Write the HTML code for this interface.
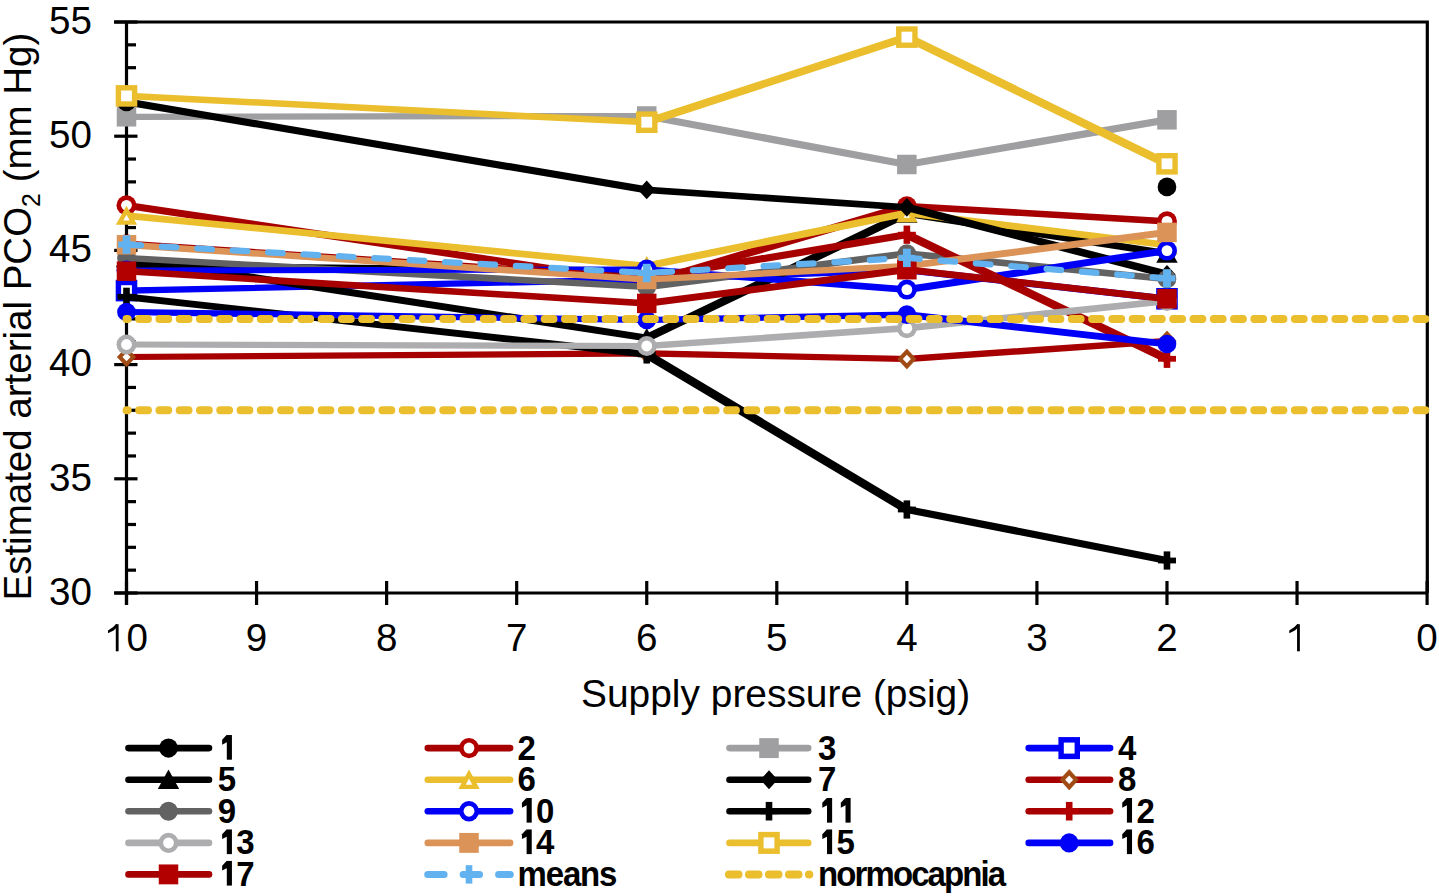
<!DOCTYPE html>
<html><head><meta charset="utf-8"><style>
html,body{margin:0;padding:0;background:#fff;overflow:hidden;}
svg{display:block;}
text{font-family:'Liberation Sans',sans-serif;fill:#000;}
</style></head><body>
<svg width="1439" height="896" viewBox="0 0 1439 896">
<rect width="1439" height="896" fill="#fff"/>
<path d="M114,22 H1427.3 V593 M126.5,22 V605 M114.2,593 H1427.3" fill="none" stroke="#000" stroke-width="3.2"/>
<line x1="114.2" y1="593.00" x2="137.5" y2="593.00" stroke="#000" stroke-width="3.2"/>
<line x1="126.5" y1="570.16" x2="136" y2="570.16" stroke="#000" stroke-width="3.2"/>
<line x1="126.5" y1="547.32" x2="136" y2="547.32" stroke="#000" stroke-width="3.2"/>
<line x1="126.5" y1="524.48" x2="136" y2="524.48" stroke="#000" stroke-width="3.2"/>
<line x1="126.5" y1="501.64" x2="136" y2="501.64" stroke="#000" stroke-width="3.2"/>
<line x1="114.2" y1="478.80" x2="137.5" y2="478.80" stroke="#000" stroke-width="3.2"/>
<line x1="126.5" y1="455.96" x2="136" y2="455.96" stroke="#000" stroke-width="3.2"/>
<line x1="126.5" y1="433.12" x2="136" y2="433.12" stroke="#000" stroke-width="3.2"/>
<line x1="126.5" y1="410.28" x2="136" y2="410.28" stroke="#000" stroke-width="3.2"/>
<line x1="126.5" y1="387.44" x2="136" y2="387.44" stroke="#000" stroke-width="3.2"/>
<line x1="114.2" y1="364.60" x2="137.5" y2="364.60" stroke="#000" stroke-width="3.2"/>
<line x1="126.5" y1="341.76" x2="136" y2="341.76" stroke="#000" stroke-width="3.2"/>
<line x1="126.5" y1="318.92" x2="136" y2="318.92" stroke="#000" stroke-width="3.2"/>
<line x1="126.5" y1="296.08" x2="136" y2="296.08" stroke="#000" stroke-width="3.2"/>
<line x1="126.5" y1="273.24" x2="136" y2="273.24" stroke="#000" stroke-width="3.2"/>
<line x1="114.2" y1="250.40" x2="137.5" y2="250.40" stroke="#000" stroke-width="3.2"/>
<line x1="126.5" y1="227.56" x2="136" y2="227.56" stroke="#000" stroke-width="3.2"/>
<line x1="126.5" y1="204.72" x2="136" y2="204.72" stroke="#000" stroke-width="3.2"/>
<line x1="126.5" y1="181.88" x2="136" y2="181.88" stroke="#000" stroke-width="3.2"/>
<line x1="126.5" y1="159.04" x2="136" y2="159.04" stroke="#000" stroke-width="3.2"/>
<line x1="114.2" y1="136.20" x2="137.5" y2="136.20" stroke="#000" stroke-width="3.2"/>
<line x1="126.5" y1="113.36" x2="136" y2="113.36" stroke="#000" stroke-width="3.2"/>
<line x1="126.5" y1="90.52" x2="136" y2="90.52" stroke="#000" stroke-width="3.2"/>
<line x1="126.5" y1="67.68" x2="136" y2="67.68" stroke="#000" stroke-width="3.2"/>
<line x1="126.5" y1="44.84" x2="136" y2="44.84" stroke="#000" stroke-width="3.2"/>
<line x1="114.2" y1="22.00" x2="137.5" y2="22.00" stroke="#000" stroke-width="3.2"/>
<line x1="1427.10" y1="581" x2="1427.10" y2="605" stroke="#000" stroke-width="3.2"/>
<line x1="1297.04" y1="581" x2="1297.04" y2="605" stroke="#000" stroke-width="3.2"/>
<line x1="1166.98" y1="581" x2="1166.98" y2="605" stroke="#000" stroke-width="3.2"/>
<line x1="1036.92" y1="581" x2="1036.92" y2="605" stroke="#000" stroke-width="3.2"/>
<line x1="906.86" y1="581" x2="906.86" y2="605" stroke="#000" stroke-width="3.2"/>
<line x1="776.80" y1="581" x2="776.80" y2="605" stroke="#000" stroke-width="3.2"/>
<line x1="646.74" y1="581" x2="646.74" y2="605" stroke="#000" stroke-width="3.2"/>
<line x1="516.68" y1="581" x2="516.68" y2="605" stroke="#000" stroke-width="3.2"/>
<line x1="386.62" y1="581" x2="386.62" y2="605" stroke="#000" stroke-width="3.2"/>
<line x1="256.56" y1="581" x2="256.56" y2="605" stroke="#000" stroke-width="3.2"/>
<line x1="126.50" y1="581" x2="126.50" y2="605" stroke="#000" stroke-width="3.2"/>
<path d="M123.40,262.70 L129.60,262.70 L649.84,267.40 L649.84,273.60 L643.64,273.60 L123.40,268.90Z" fill="#000000"/>
<ellipse cx="126.50" cy="265.80" rx="9.35" ry="9.35" fill="#000000"/><ellipse cx="646.74" cy="270.50" rx="9.35" ry="9.35" fill="#000000"/><ellipse cx="1166.98" cy="186.90" rx="9.35" ry="9.35" fill="#000000"/>
<path d="M123.40,202.20 L129.60,202.20 L649.84,279.90 L649.84,286.10 L643.64,286.10 L123.40,208.40Z M643.64,279.90 L903.76,203.10 L909.96,203.10 L909.96,209.30 L649.84,286.10 L643.64,286.10Z M903.76,203.10 L909.96,203.10 L1170.08,218.20 L1170.08,224.40 L1163.88,224.40 L903.76,209.30Z" fill="#A60000"/>
<ellipse cx="126.50" cy="205.30" rx="10.00" ry="10.00" fill="#B20000"/><ellipse cx="126.50" cy="205.30" rx="5.40" ry="5.40" fill="#fff"/><ellipse cx="646.74" cy="283.00" rx="10.00" ry="10.00" fill="#B20000"/><ellipse cx="646.74" cy="283.00" rx="5.40" ry="5.40" fill="#fff"/><ellipse cx="906.86" cy="206.20" rx="10.00" ry="10.00" fill="#B20000"/><ellipse cx="906.86" cy="206.20" rx="5.40" ry="5.40" fill="#fff"/><ellipse cx="1166.98" cy="221.30" rx="10.00" ry="10.00" fill="#B20000"/><ellipse cx="1166.98" cy="221.30" rx="5.40" ry="5.40" fill="#fff"/>
<path d="M123.40,113.70 L643.64,112.90 L649.84,112.90 L649.84,119.10 L129.60,119.90 L123.40,119.90Z M643.64,112.90 L649.84,112.90 L909.96,161.40 L909.96,167.60 L903.76,167.60 L643.64,119.10Z M903.76,161.40 L1163.88,116.70 L1170.08,116.70 L1170.08,122.90 L909.96,167.60 L903.76,167.60Z" fill="#9F9FA1"/>
<rect x="116.75" y="107.05" width="19.50" height="19.50" fill="#9F9FA1"/><rect x="636.99" y="106.25" width="19.50" height="19.50" fill="#9F9FA1"/><rect x="897.11" y="154.75" width="19.50" height="19.50" fill="#9F9FA1"/><rect x="1157.23" y="110.05" width="19.50" height="19.50" fill="#9F9FA1"/>
<path d="M123.40,287.50 L643.64,276.40 L649.84,276.40 L649.84,282.60 L129.60,293.70 L123.40,293.70Z M643.64,276.40 L903.76,266.90 L909.96,266.90 L909.96,273.10 L649.84,282.60 L643.64,282.60Z M903.76,266.90 L909.96,266.90 L1170.08,295.70 L1170.08,301.90 L1163.88,301.90 L903.76,273.10Z" fill="#0000F8"/>
<rect x="115.70" y="279.80" width="21.60" height="21.60" fill="#0000F8"/><rect x="121.10" y="285.20" width="10.80" height="10.80" fill="#fff"/><rect x="1156.18" y="288.00" width="21.60" height="21.60" fill="#0000F8"/><rect x="1161.58" y="293.40" width="10.80" height="10.80" fill="#fff"/>
<path d="M123.40,254.90 L129.60,254.90 L649.84,334.90 L649.84,341.10 L643.64,341.10 L123.40,261.10Z M643.64,334.90 L903.76,210.40 L909.96,210.40 L909.96,216.60 L649.84,341.10 L643.64,341.10Z M903.76,210.40 L909.96,210.40 L1170.08,250.40 L1170.08,256.60 L1163.88,256.60 L903.76,216.60Z" fill="#000000"/>
<path d="M126.50,248.10 L137.20,267.20 L115.80,267.20Z" fill="#000000"/><path d="M646.74,328.10 L657.44,347.20 L636.04,347.20Z" fill="#000000"/><path d="M906.86,203.60 L917.56,222.70 L896.16,222.70Z" fill="#000000"/><path d="M1166.98,243.60 L1177.68,262.70 L1156.28,262.70Z" fill="#000000"/>
<path d="M123.40,212.50 L129.60,212.50 L649.84,262.90 L649.84,269.10 L643.64,269.10 L123.40,218.70Z M643.64,262.90 L903.76,209.90 L909.96,209.90 L909.96,216.10 L649.84,269.10 L643.64,269.10Z M903.76,209.90 L909.96,209.90 L1170.08,241.90 L1170.08,248.10 L1163.88,248.10 L903.76,216.10Z" fill="#EABE2C"/>
<path d="M126.50,205.70 L137.20,224.80 L115.80,224.80Z" fill="#EABE2C"/><path d="M126.50,214.70 L129.69,220.40 L123.31,220.40Z" fill="#fff"/><path d="M646.74,256.10 L657.44,275.20 L636.04,275.20Z" fill="#EABE2C"/><path d="M646.74,265.10 L649.93,270.80 L643.55,270.80Z" fill="#fff"/><path d="M906.86,203.10 L917.56,222.20 L896.16,222.20Z" fill="#EABE2C"/><path d="M906.86,212.10 L910.05,217.80 L903.67,217.80Z" fill="#fff"/><path d="M1166.98,235.10 L1177.68,254.20 L1156.28,254.20Z" fill="#EABE2C"/><path d="M1166.98,244.10 L1170.17,249.80 L1163.79,249.80Z" fill="#fff"/>
<path d="M123.40,98.80 L129.60,98.80 L649.84,186.80 L649.84,193.00 L643.64,193.00 L123.40,105.00Z M643.64,186.80 L649.84,186.80 L909.96,204.20 L909.96,210.40 L903.76,210.40 L643.64,193.00Z M903.76,204.20 L909.96,204.20 L1170.08,271.30 L1170.08,277.50 L1163.88,277.50 L903.76,210.40Z" fill="#000000"/>
<path d="M646.74,180.55 L655.39,189.90 L646.74,199.25 L638.09,189.90Z" fill="#000000"/><path d="M906.86,197.95 L915.51,207.30 L906.86,216.65 L898.21,207.30Z" fill="#000000"/><path d="M1166.98,265.05 L1175.63,274.40 L1166.98,283.75 L1158.33,274.40Z" fill="#000000"/><ellipse cx="126.50" cy="101.90" rx="9.35" ry="9.35" fill="#000000"/>
<path d="M123.40,353.90 L643.64,350.20 L649.84,350.20 L649.84,356.40 L129.60,360.10 L123.40,360.10Z M643.64,350.20 L649.84,350.20 L909.96,355.90 L909.96,362.10 L903.76,362.10 L643.64,356.40Z M903.76,355.90 L1163.88,337.90 L1170.08,337.90 L1170.08,344.10 L909.96,362.10 L903.76,362.10Z" fill="#A60000"/>
<path d="M126.50,346.90 L135.75,357.00 L126.50,367.10 L117.25,357.00Z" fill="#A04B14" stroke="#A04B14" stroke-width="0.6" stroke-linejoin="round"/><path d="M126.50,352.80 L130.55,357.00 L126.50,361.20 L122.45,357.00Z" fill="#fff"/><path d="M646.74,343.20 L655.99,353.30 L646.74,363.40 L637.49,353.30Z" fill="#A04B14" stroke="#A04B14" stroke-width="0.6" stroke-linejoin="round"/><path d="M646.74,349.10 L650.79,353.30 L646.74,357.50 L642.69,353.30Z" fill="#fff"/><path d="M906.86,348.90 L916.11,359.00 L906.86,369.10 L897.61,359.00Z" fill="#A04B14" stroke="#A04B14" stroke-width="0.6" stroke-linejoin="round"/><path d="M906.86,354.80 L910.91,359.00 L906.86,363.20 L902.81,359.00Z" fill="#fff"/><path d="M1166.98,330.90 L1176.23,341.00 L1166.98,351.10 L1157.73,341.00Z" fill="#A04B14" stroke="#A04B14" stroke-width="0.6" stroke-linejoin="round"/><path d="M1166.98,336.80 L1171.03,341.00 L1166.98,345.20 L1162.93,341.00Z" fill="#fff"/>
<path d="M123.40,254.90 L129.60,254.90 L649.84,283.90 L649.84,290.10 L643.64,290.10 L123.40,261.10Z M643.64,283.90 L903.76,250.40 L909.96,250.40 L909.96,256.60 L649.84,290.10 L643.64,290.10Z M903.76,250.40 L909.96,250.40 L1170.08,275.90 L1170.08,282.10 L1163.88,282.10 L903.76,256.60Z" fill="#626263"/>
<ellipse cx="126.50" cy="258.00" rx="9.35" ry="9.35" fill="#626263"/><ellipse cx="646.74" cy="287.00" rx="9.35" ry="9.35" fill="#626263"/><ellipse cx="906.86" cy="253.50" rx="9.35" ry="9.35" fill="#626263"/><ellipse cx="1166.98" cy="279.00" rx="9.35" ry="9.35" fill="#626263"/>
<path d="M123.40,267.40 L643.64,266.40 L649.84,266.40 L649.84,272.60 L129.60,273.60 L123.40,273.60Z M643.64,266.40 L649.84,266.40 L909.96,286.50 L909.96,292.70 L903.76,292.70 L643.64,272.60Z M903.76,286.50 L1163.88,247.50 L1170.08,247.50 L1170.08,253.70 L909.96,292.70 L903.76,292.70Z" fill="#0000F8"/>
<ellipse cx="126.50" cy="270.50" rx="10.00" ry="10.00" fill="#0000F8"/><ellipse cx="126.50" cy="270.50" rx="5.40" ry="5.40" fill="#fff"/><ellipse cx="646.74" cy="269.50" rx="10.00" ry="10.00" fill="#0000F8"/><ellipse cx="646.74" cy="269.50" rx="5.40" ry="5.40" fill="#fff"/><ellipse cx="906.86" cy="289.60" rx="10.00" ry="10.00" fill="#0000F8"/><ellipse cx="906.86" cy="289.60" rx="5.40" ry="5.40" fill="#fff"/><ellipse cx="1166.98" cy="250.60" rx="10.00" ry="10.00" fill="#0000F8"/><ellipse cx="1166.98" cy="250.60" rx="5.40" ry="5.40" fill="#fff"/>
<path d="M123.40,293.70 L129.60,293.70 L649.84,351.30 L649.84,357.50 L643.64,357.50 L123.40,299.90Z M643.64,351.30 L649.84,351.30 L909.96,506.40 L909.96,512.60 L903.76,512.60 L643.64,357.50Z M903.76,506.40 L909.96,506.40 L1170.08,557.40 L1170.08,563.60 L1163.88,563.60 L903.76,512.60Z" fill="#000000"/>
<rect x="123.20" y="287.70" width="6.60" height="18.20" fill="#000000"/><rect x="117.50" y="293.90" width="18.00" height="5.80" fill="#000000"/><rect x="643.44" y="345.30" width="6.60" height="18.20" fill="#000000"/><rect x="637.74" y="351.50" width="18.00" height="5.80" fill="#000000"/><rect x="903.56" y="500.40" width="6.60" height="18.20" fill="#000000"/><rect x="897.86" y="506.60" width="18.00" height="5.80" fill="#000000"/><rect x="1163.68" y="551.40" width="6.60" height="18.20" fill="#000000"/><rect x="1157.98" y="557.60" width="18.00" height="5.80" fill="#000000"/>
<path d="M123.40,240.70 L129.60,240.70 L649.84,274.90 L649.84,281.10 L643.64,281.10 L123.40,246.90Z M643.64,274.90 L903.76,231.60 L909.96,231.60 L909.96,237.80 L649.84,281.10 L643.64,281.10Z M903.76,231.60 L909.96,231.60 L1170.08,355.70 L1170.08,361.90 L1163.88,361.90 L903.76,237.80Z" fill="#A60000"/>
<rect x="123.20" y="234.70" width="6.60" height="18.20" fill="#B20000"/><rect x="117.50" y="240.90" width="18.00" height="5.80" fill="#B20000"/><rect x="643.44" y="268.90" width="6.60" height="18.20" fill="#B20000"/><rect x="637.74" y="275.10" width="18.00" height="5.80" fill="#B20000"/><rect x="903.56" y="225.60" width="6.60" height="18.20" fill="#B20000"/><rect x="897.86" y="231.80" width="18.00" height="5.80" fill="#B20000"/><rect x="1163.68" y="349.70" width="6.60" height="18.20" fill="#B20000"/><rect x="1157.98" y="355.90" width="18.00" height="5.80" fill="#B20000"/>
<path d="M123.40,341.40 L129.60,341.40 L649.84,342.90 L649.84,349.10 L643.64,349.10 L123.40,347.60Z M643.64,342.90 L903.76,325.10 L909.96,325.10 L909.96,331.30 L649.84,349.10 L643.64,349.10Z M903.76,325.10 L1163.88,297.90 L1170.08,297.90 L1170.08,304.10 L909.96,331.30 L903.76,331.30Z" fill="#ADADAF"/>
<ellipse cx="126.50" cy="344.50" rx="10.00" ry="10.00" fill="#ADADAF"/><ellipse cx="126.50" cy="344.50" rx="5.40" ry="5.40" fill="#fff"/><ellipse cx="646.74" cy="346.00" rx="10.00" ry="10.00" fill="#ADADAF"/><ellipse cx="646.74" cy="346.00" rx="5.40" ry="5.40" fill="#fff"/><ellipse cx="906.86" cy="328.20" rx="10.00" ry="10.00" fill="#ADADAF"/><ellipse cx="906.86" cy="328.20" rx="5.40" ry="5.40" fill="#fff"/><ellipse cx="1166.98" cy="301.00" rx="10.00" ry="10.00" fill="#ADADAF"/><ellipse cx="1166.98" cy="301.00" rx="5.40" ry="5.40" fill="#fff"/>
<path d="M123.40,241.70 L129.60,241.70 L649.84,276.40 L649.84,282.60 L643.64,282.60 L123.40,247.90Z M643.64,276.40 L903.76,262.90 L909.96,262.90 L909.96,269.10 L649.84,282.60 L643.64,282.60Z M903.76,262.90 L1163.88,229.30 L1170.08,229.30 L1170.08,235.50 L909.96,269.10 L903.76,269.10Z" fill="#DB9358"/>
<rect x="116.75" y="235.05" width="19.50" height="19.50" fill="#DB9358"/><rect x="636.99" y="269.75" width="19.50" height="19.50" fill="#DB9358"/><rect x="897.11" y="256.25" width="19.50" height="19.50" fill="#DB9358"/><rect x="1157.23" y="222.65" width="19.50" height="19.50" fill="#DB9358"/>
<path d="M123.40,92.80 L129.60,92.80 L649.84,119.10 L649.84,125.30 L643.64,125.30 L123.40,99.00Z M643.64,119.10 L903.76,34.00 L909.96,34.00 L909.96,40.20 L649.84,125.30 L643.64,125.30Z M903.76,34.00 L909.96,34.00 L1170.08,160.70 L1170.08,166.90 L1163.88,166.90 L903.76,40.20Z" fill="#EABE2C"/>
<rect x="115.70" y="85.10" width="21.60" height="21.60" fill="#EABE2C"/><rect x="121.10" y="90.50" width="10.80" height="10.80" fill="#fff"/><rect x="635.94" y="111.40" width="21.60" height="21.60" fill="#EABE2C"/><rect x="641.34" y="116.80" width="10.80" height="10.80" fill="#fff"/><rect x="896.06" y="26.30" width="21.60" height="21.60" fill="#EABE2C"/><rect x="901.46" y="31.70" width="10.80" height="10.80" fill="#fff"/><rect x="1156.18" y="153.00" width="21.60" height="21.60" fill="#EABE2C"/><rect x="1161.58" y="158.40" width="10.80" height="10.80" fill="#fff"/>
<path d="M123.40,308.90 L129.60,308.90 L649.84,316.90 L649.84,323.10 L643.64,323.10 L123.40,315.10Z M643.64,316.90 L903.76,311.60 L909.96,311.60 L909.96,317.80 L649.84,323.10 L643.64,323.10Z M903.76,311.60 L909.96,311.60 L1170.08,340.90 L1170.08,347.10 L1163.88,347.10 L903.76,317.80Z" fill="#0000F8"/>
<ellipse cx="126.50" cy="312.00" rx="9.35" ry="9.35" fill="#0000F8"/><ellipse cx="646.74" cy="320.00" rx="9.35" ry="9.35" fill="#0000F8"/><ellipse cx="906.86" cy="314.70" rx="9.35" ry="9.35" fill="#0000F8"/><ellipse cx="1166.98" cy="344.00" rx="9.35" ry="9.35" fill="#0000F8"/>
<path d="M123.40,268.10 L129.60,268.10 L649.84,300.30 L649.84,306.50 L643.64,306.50 L123.40,274.30Z M643.64,300.30 L903.76,266.60 L909.96,266.60 L909.96,272.80 L649.84,306.50 L643.64,306.50Z M903.76,266.60 L909.96,266.60 L1170.08,295.70 L1170.08,301.90 L1163.88,301.90 L903.76,272.80Z" fill="#A60000"/>
<rect x="116.75" y="261.45" width="19.50" height="19.50" fill="#B20000"/><rect x="636.99" y="293.65" width="19.50" height="19.50" fill="#B20000"/><rect x="897.11" y="259.95" width="19.50" height="19.50" fill="#B20000"/><rect x="1157.23" y="289.05" width="19.50" height="19.50" fill="#B20000"/>
<path d="M126.50,244.60 L646.74,273.00 L906.86,257.90 L1166.98,278.40" fill="none" stroke="#62B2F0" stroke-width="6.2" stroke-dasharray="14.6 20.85" stroke-dashoffset="0" stroke-linecap="round" stroke-linejoin="round"/>
<rect x="122.60" y="235.40" width="7.80" height="18.40" fill="#62B2F0"/><rect x="118.10" y="241.55" width="16.80" height="6.10" fill="#62B2F0"/><rect x="642.84" y="263.80" width="7.80" height="18.40" fill="#62B2F0"/><rect x="638.34" y="269.95" width="16.80" height="6.10" fill="#62B2F0"/><rect x="902.96" y="248.70" width="7.80" height="18.40" fill="#62B2F0"/><rect x="898.46" y="254.85" width="16.80" height="6.10" fill="#62B2F0"/><rect x="1163.08" y="269.20" width="7.80" height="18.40" fill="#62B2F0"/><rect x="1158.58" y="275.35" width="16.80" height="6.10" fill="#62B2F0"/>
<line x1="126.5" y1="318.92" x2="1431" y2="318.92" stroke="#EABE2C" stroke-width="8" stroke-dasharray="8.8 11.476" stroke-dashoffset="7.63" stroke-linecap="round"/>
<line x1="126.5" y1="410.28" x2="1431" y2="410.28" stroke="#EABE2C" stroke-width="8" stroke-dasharray="8.8 11.476" stroke-dashoffset="7.63" stroke-linecap="round"/>
<text x="49.08" y="604.80" font-size="38.6">3</text><text x="70.54" y="604.80" font-size="38.6">0</text>
<text x="49.08" y="490.60" font-size="38.6">3</text><text x="70.54" y="490.60" font-size="38.6">5</text>
<text x="49.08" y="376.40" font-size="38.6">4</text><text x="70.54" y="376.40" font-size="38.6">0</text>
<text x="49.08" y="262.20" font-size="38.6">4</text><text x="70.54" y="262.20" font-size="38.6">5</text>
<text x="49.08" y="148.00" font-size="38.6">5</text><text x="70.54" y="148.00" font-size="38.6">0</text>
<text x="49.08" y="33.80" font-size="38.6">5</text><text x="70.54" y="33.80" font-size="38.6">5</text>
<text x="1416.37" y="651.30" font-size="38.6">0</text>
<rect x="1297.06" y="624.22" width="2.80" height="27.08" fill="#000"/><path d="M1289.26,630.42 L1294.46,626.92 L1297.06,624.22 L1298.46,624.22 L1297.06,628.62 L1294.86,630.52 L1289.26,633.22Z" fill="#000"/>
<text x="1156.25" y="651.30" font-size="38.6">2</text>
<text x="1026.19" y="651.30" font-size="38.6">3</text>
<text x="896.13" y="651.30" font-size="38.6">4</text>
<text x="766.07" y="651.30" font-size="38.6">5</text>
<text x="636.01" y="651.30" font-size="38.6">6</text>
<text x="505.95" y="651.30" font-size="38.6">7</text>
<text x="375.89" y="651.30" font-size="38.6">8</text>
<text x="245.83" y="651.30" font-size="38.6">9</text>
<rect x="115.79" y="624.22" width="2.80" height="27.08" fill="#000"/><path d="M107.99,630.42 L113.19,626.92 L115.79,624.22 L117.19,624.22 L115.79,628.62 L113.59,630.52 L107.99,633.22Z" fill="#000"/><text x="126.50" y="651.30" font-size="38.6">0</text>
<text x="775.6" y="706.5" text-anchor="middle" font-size="38.9">Supply pressure (psig)</text>
<text transform="translate(30.5,316.6) rotate(-90)" text-anchor="middle" font-size="38.6" textLength="567.8" lengthAdjust="spacingAndGlyphs">Estimated arterial PCO<tspan font-size="25" dy="9.6">2</tspan><tspan dy="-9.6"> (mm Hg)</tspan></text>
<line x1="128.5" y1="748.10" x2="209.0" y2="748.10" stroke="#000000" stroke-width="6.6" stroke-linecap="round"/>
<ellipse cx="168.50" cy="748.10" rx="9.35" ry="9.54" fill="#000000"/>
<rect x="226.81" y="735.05" width="5.12" height="24.65" fill="#000"/><path d="M222.12,739.87 L226.81,734.85 L227.81,741.87 L222.12,744.69Z" fill="#000"/>
<line x1="427.8" y1="748.10" x2="510.1" y2="748.10" stroke="#A60000" stroke-width="6.6" stroke-linecap="round"/>
<ellipse cx="469.00" cy="748.10" rx="10.00" ry="10.20" fill="#B20000"/><ellipse cx="469.00" cy="748.10" rx="5.40" ry="5.51" fill="#fff"/>
<text x="517.60" y="759.70" font-size="33.0" font-weight="bold" transform="translate(0 759.70) scale(1 1.065) translate(0 -759.70)">2</text>
<line x1="729.5" y1="748.10" x2="808.2" y2="748.10" stroke="#9F9FA1" stroke-width="6.6" stroke-linecap="round"/>
<rect x="759.25" y="738.15" width="19.50" height="19.89" fill="#9F9FA1"/>
<text x="818.00" y="759.70" font-size="33.0" font-weight="bold" transform="translate(0 759.70) scale(1 1.065) translate(0 -759.70)">3</text>
<line x1="1028.7" y1="748.10" x2="1110.1" y2="748.10" stroke="#0000F8" stroke-width="6.6" stroke-linecap="round"/>
<rect x="1058.40" y="737.08" width="21.60" height="22.03" fill="#0000F8"/><rect x="1063.80" y="742.59" width="10.80" height="11.02" fill="#fff"/>
<text x="1117.90" y="759.70" font-size="33.0" font-weight="bold" transform="translate(0 759.70) scale(1 1.065) translate(0 -759.70)">4</text>
<line x1="128.5" y1="779.70" x2="209.0" y2="779.70" stroke="#000000" stroke-width="6.6" stroke-linecap="round"/>
<path d="M168.50,769.60 L179.20,789.08 L157.80,789.08Z" fill="#000000"/>
<text x="217.80" y="791.17" font-size="33.0" font-weight="bold" transform="translate(0 791.17) scale(1 1.065) translate(0 -791.17)">5</text>
<line x1="427.8" y1="779.70" x2="510.1" y2="779.70" stroke="#EABE2C" stroke-width="6.6" stroke-linecap="round"/>
<path d="M469.00,769.60 L479.70,789.08 L458.30,789.08Z" fill="#EABE2C"/><path d="M469.00,778.74 L472.26,784.68 L465.74,784.68Z" fill="#fff"/>
<text x="517.60" y="791.17" font-size="33.0" font-weight="bold" transform="translate(0 791.17) scale(1 1.065) translate(0 -791.17)">6</text>
<line x1="729.5" y1="779.70" x2="808.2" y2="779.70" stroke="#000000" stroke-width="6.6" stroke-linecap="round"/>
<path d="M769.00,770.16 L777.65,779.70 L769.00,789.24 L760.35,779.70Z" fill="#000000"/>
<text x="818.00" y="791.17" font-size="33.0" font-weight="bold" transform="translate(0 791.17) scale(1 1.065) translate(0 -791.17)">7</text>
<line x1="1028.7" y1="779.70" x2="1110.1" y2="779.70" stroke="#A60000" stroke-width="6.6" stroke-linecap="round"/>
<path d="M1069.20,769.40 L1078.45,779.70 L1069.20,790.00 L1059.95,779.70Z" fill="#A04B14" stroke="#A04B14" stroke-width="0.6" stroke-linejoin="round"/><path d="M1069.20,775.42 L1073.25,779.70 L1069.20,783.98 L1065.15,779.70Z" fill="#fff"/>
<text x="1117.90" y="791.17" font-size="33.0" font-weight="bold" transform="translate(0 791.17) scale(1 1.065) translate(0 -791.17)">8</text>
<line x1="128.5" y1="811.20" x2="209.0" y2="811.20" stroke="#626263" stroke-width="6.6" stroke-linecap="round"/>
<ellipse cx="168.50" cy="811.20" rx="9.35" ry="9.54" fill="#626263"/>
<text x="217.80" y="822.64" font-size="33.0" font-weight="bold" transform="translate(0 822.64) scale(1 1.065) translate(0 -822.64)">9</text>
<line x1="427.8" y1="811.20" x2="510.1" y2="811.20" stroke="#0000F8" stroke-width="6.6" stroke-linecap="round"/>
<ellipse cx="469.00" cy="811.20" rx="10.00" ry="10.20" fill="#0000F8"/><ellipse cx="469.00" cy="811.20" rx="5.40" ry="5.51" fill="#fff"/>
<rect x="526.61" y="797.99" width="5.12" height="24.65" fill="#000"/><path d="M521.92,802.81 L526.61,797.79 L527.61,804.81 L521.92,807.63Z" fill="#000"/><text x="536.10" y="822.64" font-size="33.0" font-weight="bold" transform="translate(0 822.64) scale(1 1.065) translate(0 -822.64)">0</text>
<line x1="729.5" y1="811.20" x2="808.2" y2="811.20" stroke="#000000" stroke-width="6.6" stroke-linecap="round"/>
<rect x="765.70" y="801.92" width="6.60" height="18.56" fill="#000000"/><rect x="760.00" y="808.24" width="18.00" height="5.92" fill="#000000"/>
<rect x="827.01" y="797.99" width="5.12" height="24.65" fill="#000"/><path d="M822.32,802.81 L827.01,797.79 L828.01,804.81 L822.32,807.63Z" fill="#000"/><rect x="845.51" y="797.99" width="5.12" height="24.65" fill="#000"/><path d="M840.82,802.81 L845.51,797.79 L846.51,804.81 L840.82,807.63Z" fill="#000"/>
<line x1="1028.7" y1="811.20" x2="1110.1" y2="811.20" stroke="#A60000" stroke-width="6.6" stroke-linecap="round"/>
<rect x="1065.90" y="801.92" width="6.60" height="18.56" fill="#B20000"/><rect x="1060.20" y="808.24" width="18.00" height="5.92" fill="#B20000"/>
<rect x="1126.91" y="797.99" width="5.12" height="24.65" fill="#000"/><path d="M1122.22,802.81 L1126.91,797.79 L1127.91,804.81 L1122.22,807.63Z" fill="#000"/><text x="1136.40" y="822.64" font-size="33.0" font-weight="bold" transform="translate(0 822.64) scale(1 1.065) translate(0 -822.64)">2</text>
<line x1="128.5" y1="842.90" x2="209.0" y2="842.90" stroke="#ADADAF" stroke-width="6.6" stroke-linecap="round"/>
<ellipse cx="168.50" cy="842.90" rx="10.00" ry="10.20" fill="#ADADAF"/><ellipse cx="168.50" cy="842.90" rx="5.40" ry="5.51" fill="#fff"/>
<rect x="226.81" y="829.46" width="5.12" height="24.65" fill="#000"/><path d="M222.12,834.28 L226.81,829.26 L227.81,836.28 L222.12,839.10Z" fill="#000"/><text x="236.30" y="854.11" font-size="33.0" font-weight="bold" transform="translate(0 854.11) scale(1 1.065) translate(0 -854.11)">3</text>
<line x1="427.8" y1="842.90" x2="510.1" y2="842.90" stroke="#DB9358" stroke-width="6.6" stroke-linecap="round"/>
<rect x="459.25" y="832.95" width="19.50" height="19.89" fill="#DB9358"/>
<rect x="526.61" y="829.46" width="5.12" height="24.65" fill="#000"/><path d="M521.92,834.28 L526.61,829.26 L527.61,836.28 L521.92,839.10Z" fill="#000"/><text x="536.10" y="854.11" font-size="33.0" font-weight="bold" transform="translate(0 854.11) scale(1 1.065) translate(0 -854.11)">4</text>
<line x1="729.5" y1="842.90" x2="808.2" y2="842.90" stroke="#EABE2C" stroke-width="6.6" stroke-linecap="round"/>
<rect x="758.20" y="831.88" width="21.60" height="22.03" fill="#EABE2C"/><rect x="763.60" y="837.39" width="10.80" height="11.02" fill="#fff"/>
<rect x="827.01" y="829.46" width="5.12" height="24.65" fill="#000"/><path d="M822.32,834.28 L827.01,829.26 L828.01,836.28 L822.32,839.10Z" fill="#000"/><text x="836.50" y="854.11" font-size="33.0" font-weight="bold" transform="translate(0 854.11) scale(1 1.065) translate(0 -854.11)">5</text>
<line x1="1028.7" y1="842.90" x2="1110.1" y2="842.90" stroke="#0000F8" stroke-width="6.6" stroke-linecap="round"/>
<ellipse cx="1069.20" cy="842.90" rx="9.35" ry="9.54" fill="#0000F8"/>
<rect x="1126.91" y="829.46" width="5.12" height="24.65" fill="#000"/><path d="M1122.22,834.28 L1126.91,829.26 L1127.91,836.28 L1122.22,839.10Z" fill="#000"/><text x="1136.40" y="854.11" font-size="33.0" font-weight="bold" transform="translate(0 854.11) scale(1 1.065) translate(0 -854.11)">6</text>
<line x1="128.5" y1="874.40" x2="209.0" y2="874.40" stroke="#A60000" stroke-width="6.6" stroke-linecap="round"/>
<rect x="158.75" y="864.45" width="19.50" height="19.89" fill="#B20000"/>
<rect x="226.81" y="860.93" width="5.12" height="24.65" fill="#000"/><path d="M222.12,865.75 L226.81,860.73 L227.81,867.75 L222.12,870.57Z" fill="#000"/><text x="236.30" y="885.58" font-size="33.0" font-weight="bold" transform="translate(0 885.58) scale(1 1.065) translate(0 -885.58)">7</text>
<line x1="427.7" y1="874.40" x2="510.3" y2="874.40" stroke="#62B2F0" stroke-width="7" stroke-dasharray="16.4 19.05" stroke-linecap="round"/>
<rect x="465.69" y="865.20" width="6.63" height="18.40" fill="#62B2F0"/><rect x="461.86" y="871.35" width="14.28" height="6.10" fill="#62B2F0"/>
<text x="517.60" y="885.58" font-size="33.0" font-weight="bold" textLength="99.8" lengthAdjust="spacing" transform="translate(0 885.58) scale(1 1.065) translate(0 -885.58)">means</text>
<line x1="729" y1="874.40" x2="809.3" y2="874.40" stroke="#EABE2C" stroke-width="8" stroke-dasharray="9.5 10.5" stroke-linecap="round"/>
<text x="818.00" y="885.58" font-size="33.0" font-weight="bold" textLength="188.2" lengthAdjust="spacing" transform="translate(0 885.58) scale(1 1.065) translate(0 -885.58)">normocapnia</text>
</svg>
</body></html>
